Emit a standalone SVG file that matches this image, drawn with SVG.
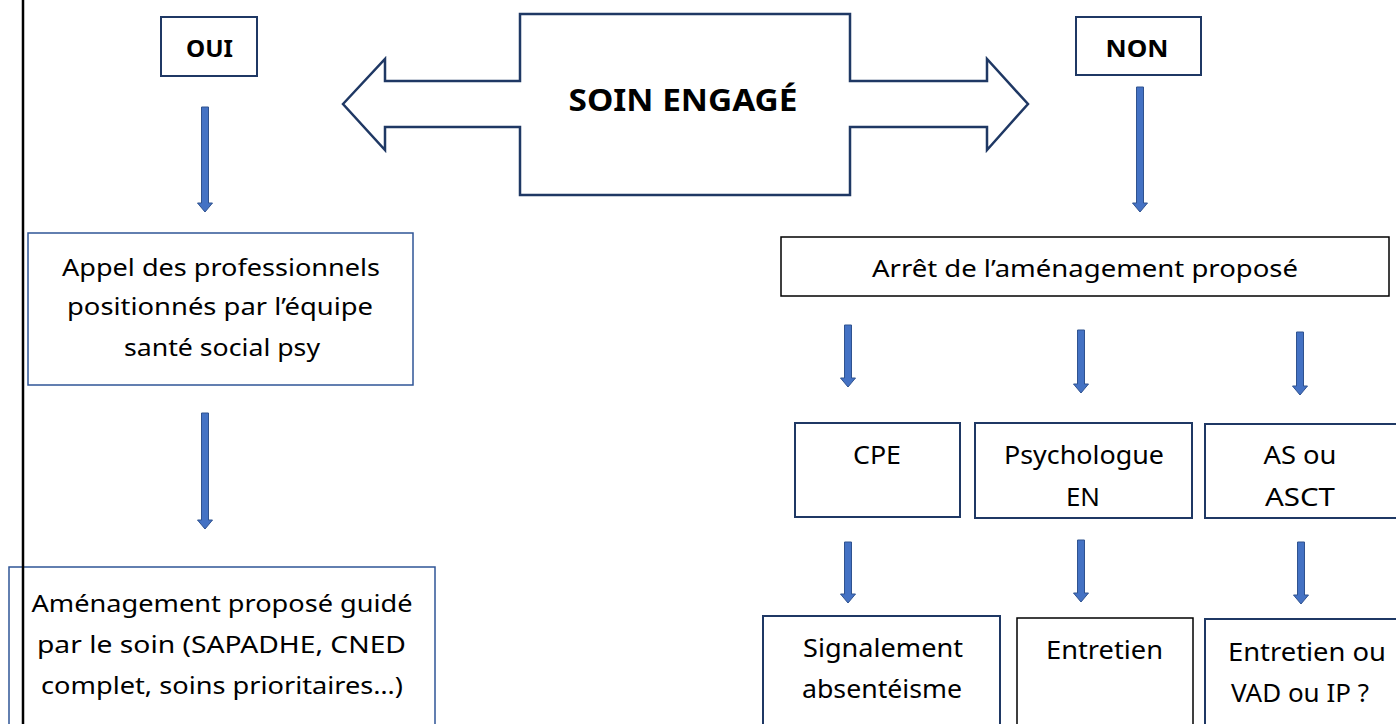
<svg xmlns="http://www.w3.org/2000/svg" width="1396" height="724" viewBox="0 0 1396 724">
<style>
.bg{fill:#ffffff}
.box{fill:#ffffff;stroke:#1f3864;stroke-width:2}
.boxl{fill:#ffffff;stroke:#2f5597;stroke-width:1.5}
.boxk{fill:#ffffff;stroke:#000000;stroke-width:1.5}
.t{font-family:"Noto Sans","Liberation Sans",sans-serif;font-size:24px;fill:#000;text-anchor:middle}
.c{font-family:"Noto Sans","Liberation Sans",sans-serif;font-size:25px;fill:#000;text-anchor:middle}
.b{font-family:"Noto Sans","Liberation Sans",sans-serif;font-weight:bold;fill:#000;text-anchor:middle}
.arr{fill:#4472c4;stroke:#2f528f;stroke-width:1}
.big{fill:#ffffff;stroke:#1f3864;stroke-width:2.5;stroke-linejoin:miter}
</style>
<rect class="bg" x="0" y="0" width="1396" height="724"/>

<g id="soin-engage">
<path class="big" d="M343 104 L385 59 V81 H520 V14 H850 V81 H987 V59 L1028 104 L987 150 V127 H850 V195 H520 V127 H385 V150 Z"/>
<text class="b" x="683" y="111" font-size="31" textLength="229" lengthAdjust="spacingAndGlyphs">SOIN ENGAGÉ</text>
</g>

<g id="oui">
<rect class="box" x="161" y="17" width="96" height="59"/>
<text class="b" x="209.5" y="57" font-size="23" textLength="47" lengthAdjust="spacingAndGlyphs">OUI</text>
</g>

<g id="non">
<rect class="box" x="1076" y="17" width="125" height="58"/>
<text class="b" x="1137" y="57" font-size="23" textLength="63" lengthAdjust="spacingAndGlyphs">NON</text>
</g>

<g id="appel">
<rect class="boxl" x="28" y="233" width="385" height="152"/>
<text class="t" x="221" y="276" textLength="318" lengthAdjust="spacingAndGlyphs">Appel des professionnels</text>
<text class="t" x="220" y="315" textLength="306" lengthAdjust="spacingAndGlyphs">positionnés par l’équipe</text>
<text class="t" x="222" y="356" textLength="196" lengthAdjust="spacingAndGlyphs">santé social psy</text>
</g>

<g id="amenagement">
<rect class="boxl" x="9" y="567" width="426" height="170"/>
<text class="t" x="222" y="612" textLength="381" lengthAdjust="spacingAndGlyphs">Aménagement proposé guidé</text>
<text class="t" x="221.5" y="653" textLength="369" lengthAdjust="spacingAndGlyphs">par le soin (SAPADHE, CNED</text>
<text class="t" x="222" y="694" textLength="362" lengthAdjust="spacingAndGlyphs">complet, soins prioritaires…)</text>
</g>

<g id="arret">
<rect class="boxk" x="781" y="237" width="608" height="59"/>
<text class="t" x="1085" y="277" textLength="426" lengthAdjust="spacingAndGlyphs">Arrêt de l’aménagement proposé</text>
</g>

<g id="cpe">
<rect class="box" x="795" y="423" width="165" height="94"/>
<text class="c" x="877" y="464" textLength="48" lengthAdjust="spacingAndGlyphs">CPE</text>
</g>

<g id="psychologue">
<rect class="box" x="975" y="423" width="217" height="95"/>
<text class="c" x="1084" y="464" textLength="160" lengthAdjust="spacingAndGlyphs">Psychologue</text>
<text class="c" x="1083" y="506" textLength="34" lengthAdjust="spacingAndGlyphs">EN</text>
</g>

<g id="as">
<rect class="box" x="1205" y="424" width="200" height="94"/>
<text class="c" x="1300" y="464" textLength="73" lengthAdjust="spacingAndGlyphs">AS ou</text>
<text class="c" x="1300" y="506" textLength="70" lengthAdjust="spacingAndGlyphs">ASCT</text>
</g>

<g id="signalement">
<rect class="box" x="763" y="616" width="237" height="130"/>
<text class="c" x="883" y="657" textLength="160" lengthAdjust="spacingAndGlyphs">Signalement</text>
<text class="c" x="882" y="698" textLength="160" lengthAdjust="spacingAndGlyphs">absentéisme</text>
</g>

<g id="entretien">
<rect class="boxk" x="1017" y="618" width="176" height="130"/>
<text class="c" x="1104.5" y="659" textLength="117" lengthAdjust="spacingAndGlyphs">Entretien</text>
</g>

<g id="entretien-ou">
<rect class="box" x="1205" y="619" width="200" height="130"/>
<text class="c" x="1307" y="661" textLength="158" lengthAdjust="spacingAndGlyphs">Entretien ou</text>
<text class="c" x="1300" y="702" textLength="138" lengthAdjust="spacingAndGlyphs">VAD ou IP ?</text>
</g>

<g id="connectors">
<path class="arr" d="M201.5 107 H208.5 V203 H212.5 L205 212 L197.5 203 H201.5 Z"/>
<path class="arr" d="M201.5 413 H208.5 V520 H212.5 L205 529 L197.5 520 H201.5 Z"/>
<path class="arr" d="M1136.5 87 H1143.5 V203 H1147.5 L1140 212 L1132.5 203 H1136.5 Z"/>
<path class="arr" d="M844.5 325 H851.5 V378 H855.5 L848 387 L840.5 378 H844.5 Z"/>
<path class="arr" d="M1077.5 330 H1084.5 V384 H1088.5 L1081 393 L1073.5 384 H1077.5 Z"/>
<path class="arr" d="M1296.5 332 H1303.5 V386 H1307.5 L1300 395 L1292.5 386 H1296.5 Z"/>
<path class="arr" d="M844.5 542 H851.5 V594 H855.5 L848 603 L840.5 594 H844.5 Z"/>
<path class="arr" d="M1077.5 540 H1084.5 V593 H1088.5 L1081 602 L1073.5 593 H1077.5 Z"/>
<path class="arr" d="M1297.5 542 H1304.5 V595 H1308.5 L1301 604 L1293.5 595 H1297.5 Z"/>
</g>

<line x1="23" y1="0" x2="23" y2="724" stroke="#000" stroke-width="2.5"/>
</svg>
